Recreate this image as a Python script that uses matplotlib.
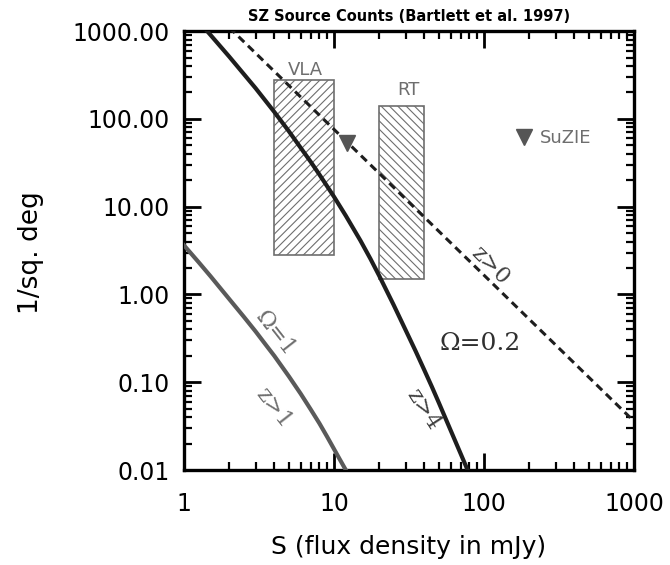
#!/usr/bin/env python
"""
SZ source counts (Bartlett et al. 1997): number per square degree vs flux density.
Writes out.png.
"""

import numpy as np
import matplotlib

matplotlib.use("Agg")
import matplotlib.pyplot as plt
from matplotlib.patches import Rectangle
from matplotlib.ticker import FixedLocator, LogLocator, NullFormatter

# ---- data ----
# Omega = 0.2, z > 4 (solid black)
S_OM02 = [1.3, 2, 3, 4, 5, 6, 7, 8, 10, 12, 15, 17.5, 20, 25, 30, 35, 40, 45, 50, 60, 70, 80]
N_OM02 = [1202, 513, 224, 120, 72.4, 46.8, 32.4, 23.2, 13.0, 7.87, 4.12, 2.55, 1.64,
          0.760, 0.395, 0.227, 0.138, 0.0885, 0.0586, 0.0283, 0.0153, 0.00895]

# Omega = 1, z > 1 (solid grey)
S_OM1 = [1, 1.25, 1.5, 2, 2.5, 3, 3.5, 4, 5, 6, 7, 8, 9, 10, 11, 12]
N_OM1 = [3.63, 2.34, 1.62, 0.89, 0.56, 0.38, 0.269, 0.20, 0.117, 0.074, 0.049,
         0.034, 0.024, 0.0174, 0.0130, 0.0100]

# z > 0 (dashed, straight in log-log)
S_Z0 = [2, 10, 100, 1000]
N_Z0 = [1100, 76, 1.66, 0.036]

# survey boxes: (S_min, S_max, N_min, N_max)
VLA_BOX = (4.0, 10.0, 2.8, 280.0)
RT_BOX = (20.0, 40.0, 1.5, 140.0)

# SuZIE limit
S_SUZIE = [12.2]
N_SUZIE = [53]

X_TICKS = [1, 10, 100, 1000]
X_TICKLABELS = ["1", "10", "100", "1000"]
Y_TICKS = [0.01, 0.1, 1, 10, 100, 1000]
Y_TICKLABELS = ["0.01", "0.10", "1.00", "10.00", "100.00", "1000.00"]

plt.rcParams.update(
    {
        "font.family": "DejaVu Sans",
        "hatch.linewidth": 0.8,
        "xtick.direction": "in",
        "ytick.direction": "in",
        "xtick.top": True,
        "ytick.right": True,
    }
)

GREY = "#6e6e6e"
DARK = "#1e1e1e"


def add_box(ax, box, hatch):
    s0, s1, n0, n1 = box
    ax.add_patch(
        Rectangle(
            (s0, n0), s1 - s0, n1 - n0,
            facecolor="white", edgecolor=GREY, hatch=hatch, lw=1.2, zorder=1,
        )
    )


def main():
    fig = plt.figure(figsize=(6.7, 5.65), dpi=100)
    ax = fig.add_axes([0.2746, 0.168, 0.6716, 0.777])

    add_box(ax, VLA_BOX, "////")
    add_box(ax, RT_BOX, "\\\\\\\\")

    ax.plot(S_OM02, N_OM02, color=DARK, lw=3.0, zorder=3)
    ax.plot(S_OM1, N_OM1, color="#5a5a5a", lw=3.0, zorder=3)
    ax.plot(S_Z0, N_Z0, color=DARK, lw=2.2, ls=(0, (2.6, 1.7)), zorder=3)

    ax.plot(S_SUZIE, N_SUZIE, ls="none", marker="v", ms=12,
            color="#555555", mec="#555555", zorder=4, label="SuZIE")

    ax.set_xscale("log")
    ax.set_yscale("log")
    ax.set_xlim(1, 1000)
    ax.set_ylim(0.01, 1000)

    ax.xaxis.set_major_locator(FixedLocator(X_TICKS))
    ax.set_xticklabels(X_TICKLABELS)
    ax.yaxis.set_major_locator(FixedLocator(Y_TICKS))
    ax.set_yticklabels(Y_TICKLABELS)
    for axis in (ax.xaxis, ax.yaxis):
        axis.set_minor_locator(LogLocator(base=10, subs=np.arange(2, 10)))
        axis.set_minor_formatter(NullFormatter())

    ax.tick_params(which="major", length=12, width=2, labelsize=17)
    ax.tick_params(axis="y", which="major", pad=10)
    ax.tick_params(axis="x", which="major", pad=16)
    ax.tick_params(which="minor", length=6, width=1.6)
    for sp in ax.spines.values():
        sp.set_linewidth(2.4)

    ax.set_xlabel("S (flux density in mJy)", fontsize=18)
    ax.xaxis.set_label_coords(0.5, -0.148)
    ax.set_ylabel("1/sq. deg", fontsize=19)
    ax.yaxis.set_label_coords(-0.31, 0.495)
    ax.set_title("SZ Source Counts (Bartlett et al. 1997)",
                 fontsize=10.5, fontweight="bold", pad=7)

    # annotations
    ax.text(6.5, 360, "VLA", color=GREY, fontsize=13, ha="center", va="center")
    ax.text(31.6, 213, "RT", color=GREY, fontsize=13, ha="center", va="center")
    serif = dict(family="DejaVu Serif", ha="center", va="center")
    ax.text(110, 2.16, "z>0", color="#404040", fontsize=16, rotation=-45, **serif)
    ax.text(94, 0.28, "Ω=0.2", color="#303030", fontsize=18, **serif)
    ax.text(4.04, 0.36, "Ω=1", color=GREY, fontsize=16, rotation=-52, **serif)
    ax.text(3.98, 0.051, "z>1", color=GREY, fontsize=16, rotation=-52, **serif)
    ax.text(39.2, 0.0495, "z>4", color="#404040", fontsize=16, rotation=-57, **serif)

    leg = ax.legend(
        loc="center left", bbox_to_anchor=(0.735, 0.756), frameon=False,
        fontsize=13, handlelength=1.0, handletextpad=0.4, borderpad=0,
        borderaxespad=0, numpoints=1,
    )
    for t in leg.get_texts():
        t.set_color(GREY)

    fig.savefig("out.png", dpi=100)
    plt.close(fig)


if __name__ == "__main__":
    main()
